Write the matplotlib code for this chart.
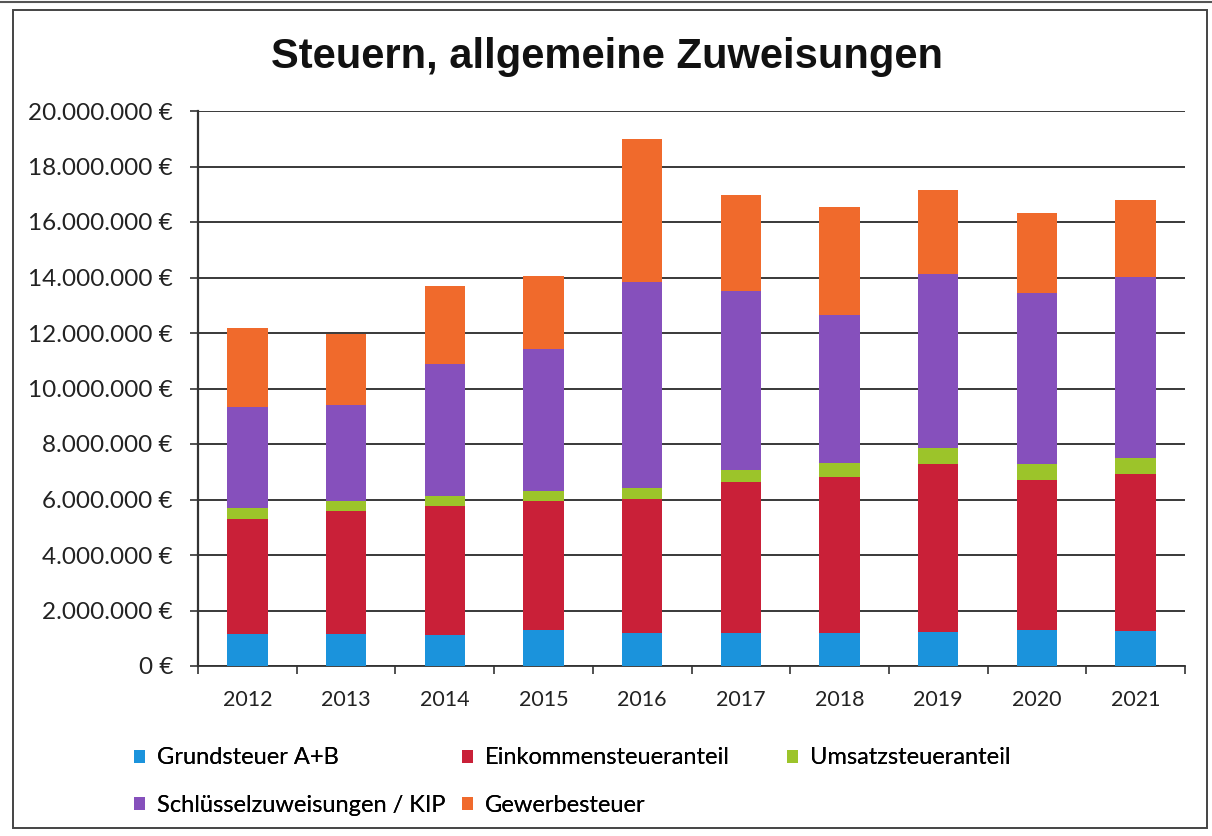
import numpy as np
import matplotlib.pyplot as plt
from matplotlib.patches import Rectangle
from matplotlib.ticker import FuncFormatter, FixedLocator

years = ["2012", "2013", "2014", "2015", "2016", "2017", "2018", "2019", "2020", "2021"]

# values in EUR
grundsteuer = [1.16e6, 1.16e6, 1.12e6, 1.29e6, 1.20e6, 1.20e6, 1.20e6, 1.23e6, 1.30e6, 1.26e6]
einkommen = [4.13e6, 4.42e6, 4.63e6, 4.66e6, 4.82e6, 5.42e6, 5.61e6, 6.04e6, 5.41e6, 5.65e6]
umsatz = [0.40e6, 0.37e6, 0.36e6, 0.37e6, 0.40e6, 0.46e6, 0.50e6, 0.57e6, 0.56e6, 0.57e6]
schluessel = [3.66e6, 3.46e6, 4.77e6, 5.12e6, 7.41e6, 6.44e6, 5.34e6, 6.28e6, 6.18e6, 6.55e6]
gewerbe = [2.83e6, 2.56e6, 2.82e6, 2.61e6, 5.17e6, 3.44e6, 3.88e6, 3.03e6, 2.88e6, 2.76e6]

series = [
    ("Grundsteuer A+B", grundsteuer, "#1b93dc"),
    ("Einkommensteueranteil", einkommen, "#c92038"),
    ("Umsatzsteueranteil", umsatz, "#9cc42a"),
    ("Schlüsselzuweisungen / KIP", schluessel, "#8650bc"),
    ("Gewerbesteuer", gewerbe, "#f06a2c"),
]

# legend entry anchors (pixels, left edge of marker / row centre) like the Excel flow layout
legend_pos = [(134, 758), (462, 758), (787, 758), (134, 805), (462, 805)]

plt.rcParams["font.family"] = ["Lato", "DejaVu Sans"]

fig = plt.figure(figsize=(12.12, 8.36), dpi=100)
ax = fig.add_axes([198 / 1212, 1 - 666 / 836, (1185 - 198) / 1212, (666 - 111) / 836])

x = np.arange(len(years))
bottom = np.zeros(len(years))
handles = []
for name, vals, col in series:
    b = ax.bar(x, vals, width=0.41, bottom=bottom, color=col, label=name, zorder=3)
    handles.append(b)
    bottom += np.array(vals)

ax.set_xlim(-0.5, len(years) - 0.5)
ax.set_ylim(0, 20e6)
ax.set_yticks(np.arange(0, 20e6 + 1, 2e6))
ax.yaxis.set_major_formatter(FuncFormatter(lambda v, p: f"{int(v):,}".replace(",", ".") + " €"))
ax.set_xticks(x)
ax.set_xticklabels(years)
ax.xaxis.set_minor_locator(FixedLocator(np.arange(-0.5, len(years), 1.0)))
ax.tick_params(axis="x", which="major", length=0, pad=17, labelsize=15.5, colors="#222222")
ax.tick_params(axis="x", which="minor", length=6, width=1.2, color="#333333")
ax.tick_params(axis="y", length=6, width=1.2, color="#333333", pad=12, labelsize=17.5, labelcolor="#222222")
ax.grid(axis="y", color="#2a2a2a", linewidth=1.3, zorder=0)
for s in ["top", "right"]:
    ax.spines[s].set_visible(False)
ax.spines["left"].set_linewidth(1.6)
ax.spines["left"].set_color("#333333")
ax.spines["bottom"].set_linewidth(1.3)
ax.spines["bottom"].set_color("#333333")

fig.text(0.5 + 1 / 1212, 1 - 57 / 836, "Steuern, allgemeine Zuweisungen", ha="center", va="center",
         fontsize=30, fontweight="bold", family="Liberation Sans", color="#111111")

for (name, _, _), h, (px, py) in zip(series, handles, legend_pos):
    leg = fig.legend([h], [name], loc="center left", bbox_to_anchor=(px / 1212, 1 - py / 836),
                     frameon=False, fontsize=17, borderpad=0, borderaxespad=0,
                     handlelength=0.47, handleheight=0.47, handletextpad=0.5)
    fig.add_artist(leg)

# chart frame
fig.add_artist(Rectangle((13 / 1212, 8 / 836), (1207 - 13) / 1212, (826 - 8) / 836,
                         transform=fig.transFigure, fill=False, edgecolor="#444444", linewidth=1.4))
fig.add_artist(plt.Line2D([0, 1], [1 - 1.5 / 836, 1 - 1.5 / 836], transform=fig.transFigure,
                          color="#555555", linewidth=1.5))

fig.savefig("out.png", dpi=100)
